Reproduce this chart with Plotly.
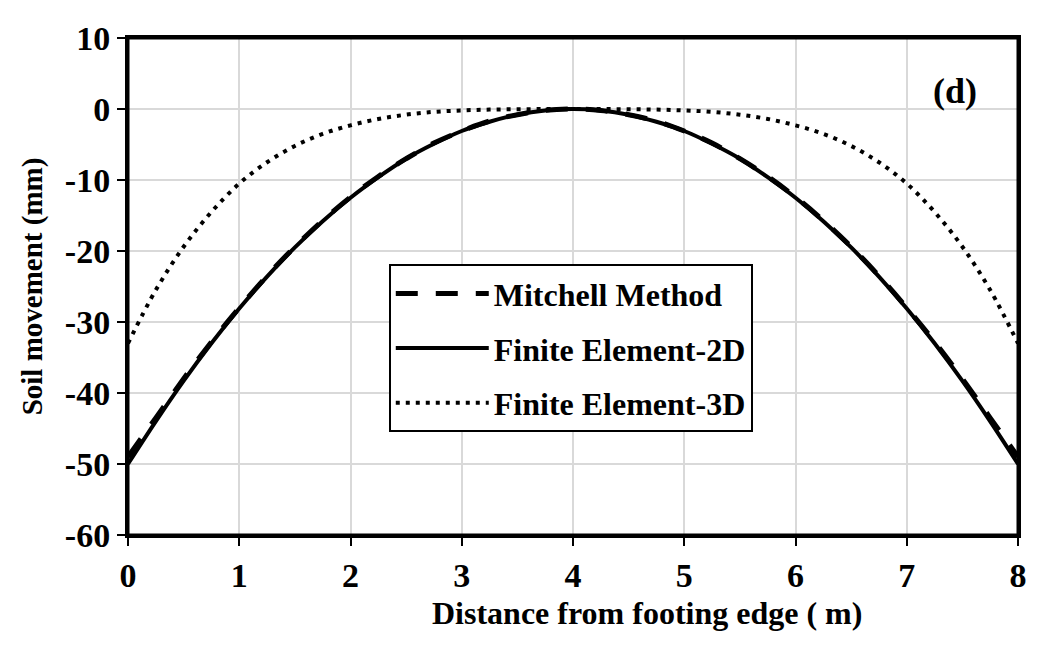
import plotly.graph_objects as go

# Distance from footing edge (m)
x_dist = [0, 0.25, 0.5, 0.75, 1, 1.25, 1.5, 1.75, 2, 2.25, 2.5, 2.75, 3, 3.25, 3.5, 3.75,
          4, 4.25, 4.5, 4.75, 5, 5.25, 5.5, 5.75, 6, 6.25, 6.5, 6.75, 7, 7.25, 7.5, 7.75, 8]

# Soil movement (mm)
mitchell = [-49.0, -43.5, -38.0, -32.8, -28.0, -23.5, -19.4, -15.7, -12.4, -9.5, -7.0, -4.8,
            -3.1, -1.7, -0.8, -0.2, 0.0, -0.2, -0.8, -1.7, -3.1, -4.8, -7.0, -9.5, -12.4,
            -15.7, -19.4, -23.5, -28.0, -32.8, -38.0, -43.5, -49.0]
fe_2d = [-50.0, -44.0, -38.3, -33.0, -28.1, -23.6, -19.5, -15.8, -12.5, -9.6, -7.0, -4.9,
         -3.1, -1.8, -0.8, -0.2, 0.0, -0.2, -0.8, -1.8, -3.1, -4.9, -7.0, -9.6, -12.5,
         -15.8, -19.5, -23.6, -28.1, -33.0, -38.3, -44.0, -50.0]
fe_3d = [-33.0, -25.5, -19.4, -14.5, -10.5, -7.5, -5.2, -3.5, -2.3, -1.4, -0.8, -0.4,
         -0.2, -0.08, -0.03, -0.01, 0.0, -0.01, -0.03, -0.08, -0.2, -0.4, -0.8, -1.4, -2.3,
         -3.5, -5.2, -7.5, -10.5, -14.5, -19.4, -25.5, -33.0]

x_ticks = [0, 1, 2, 3, 4, 5, 6, 7, 8]
y_ticks = [10, 0, -10, -20, -30, -40, -50, -60]

FONT = "Liberation Serif"

fig = go.Figure()
fig.add_trace(go.Scatter(x=x_dist, y=mitchell, mode="lines", name="<b>Mitchell Method</b>",
                         legendgroup="a", line=dict(color="black", width=5, dash="22px,18px", shape="spline")))
fig.add_trace(go.Scatter(x=x_dist, y=fe_2d, mode="lines", name="<b>Finite Element-2D</b>",
                         legendgroup="b", line=dict(color="black", width=4, shape="spline")))
fig.add_trace(go.Scatter(x=x_dist, y=fe_3d, mode="lines", name="<b>Finite Element-3D</b>",
                         legendgroup="c", line=dict(color="black", width=4, dash="4px,6px", shape="spline")))

fig.add_annotation(x=7.43, y=2.6, text="<b>(d)</b>", showarrow=False,
                   font=dict(family=FONT, size=36, color="black"))

# x-axis title (offset to the right as in the original)
fig.add_annotation(x=0.583, y=-0.157, xref="paper", yref="paper",
                   text="<b>Distance from footing edge ( m)</b>", showarrow=False,
                   xanchor="center", yanchor="middle",
                   font=dict(family=FONT, size=32, color="black"))

# plot-area frame
fig.add_shape(type="rect", xref="paper", yref="paper", x0=0, y0=0, x1=1, y1=1,
              line=dict(color="black", width=3), layer="above")

axis_common = dict(showline=True, linecolor="black", linewidth=3, mirror=True,
                   showgrid=True, gridcolor="#d9d9d9", gridwidth=1.5,
                   ticks="outside", ticklen=8, tickwidth=2, tickcolor="black",
                   zeroline=False, automargin=False, ticklabeloverflow="allow",
                   tickfont=dict(family=FONT, size=34, color="black"))

fig.update_layout(
    width=1048, height=646,
    margin=dict(l=120, r=38, t=30, b=119),
    paper_bgcolor="white", plot_bgcolor="white",
    font=dict(family=FONT, color="black"),
    xaxis=dict(range=[0, 8], tickvals=x_ticks, ticktext=[f"<b>{v}</b>" for v in x_ticks],
               **axis_common),
    yaxis=dict(range=[-60, 10], tickvals=y_ticks, ticktext=[f"<b>{v}</b>" for v in y_ticks],
               title=dict(text="<b>Soil movement (mm)</b>",
                          font=dict(family=FONT, size=29, color="black"), standoff=14),
               **axis_common),
    legend=dict(x=0.293, y=0.545, xanchor="left", yanchor="top",
                bgcolor="white", bordercolor="black", borderwidth=2,
                font=dict(family=FONT, size=32, color="black"),
                itemwidth=93,
                traceorder="grouped", tracegroupgap=10),
    showlegend=True,
)

fig.write_html("out.html", config={"displayModeBar": False})
